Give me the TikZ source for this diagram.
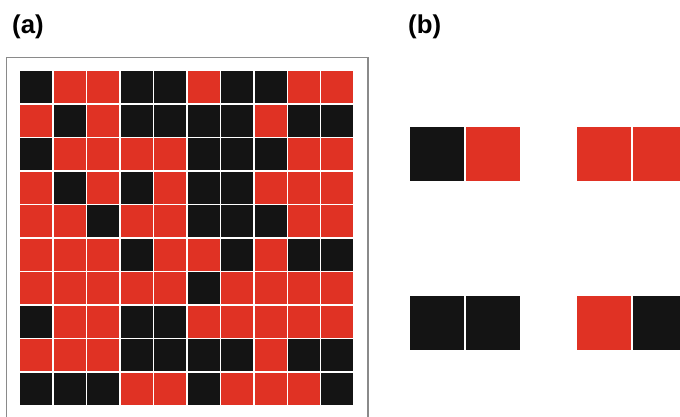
\documentclass[tikz,border=0pt]{standalone}
\usepackage{fontspec}
\setmainfont{Liberation Sans}
\usepackage{tikz}
\usetikzlibrary{positioning}
\definecolor{cellRed}{HTML}{E03224}
\definecolor{cellBlack}{HTML}{141414}
\definecolor{frameGray}{HTML}{8A8A8A}

\begin{document}
\begin{tikzpicture}[
    x=0.3mm, y=-0.3mm,
    cellR/.style={fill=cellRed, inner sep=0pt, minimum width=9.6mm, minimum height=9.6mm},
    cellB/.style={fill=cellBlack, inner sep=0pt, minimum width=9.6mm, minimum height=9.6mm},
    tileR/.style={fill=cellRed, inner sep=0pt, minimum width=16.2mm, minimum height=16.2mm},
    tileB/.style={fill=cellBlack, inner sep=0pt, minimum width=16.2mm, minimum height=16.2mm},
    panel/.style={font=\fontsize{22}{26}\selectfont\bfseries, inner sep=0pt, anchor=west}
]
\useasboundingbox (0,0) rectangle (680,416);
\clip (0,0) rectangle (680,416);
% Labels
\node[panel] (lbla) at (12,27) {(a)};
\node[panel] (lblb) at (408,27) {(b)};
% Frame of (a)
\draw[frameGray, line width=0.35mm] (6.5,430) -- (6.5,57.5) -- (368,57.5) -- (368,430);
% Grid of (a), one row per line
\foreach \row [count=\r from 0] in {
    {B,R,R,B,B,R,B,B,R,R},
    {R,B,R,B,B,B,B,R,B,B},
    {B,R,R,R,R,B,B,B,R,R},
    {R,B,R,B,R,B,B,R,R,R},
    {R,R,B,R,R,B,B,B,R,R},
    {R,R,R,B,R,R,B,R,B,B},
    {R,R,R,R,R,B,R,R,R,R},
    {B,R,R,B,B,R,R,R,R,R},
    {R,R,R,B,B,B,B,R,B,B},
    {B,B,B,R,R,B,R,R,R,B}}
  \foreach \c [count=\k from 0] in \row
    \node[cell\c] (g-\r-\k) at ({36.4+33.45*\k},{87.2+33.5*\r}) {};
% Tiles of (b)
\node[tileB] (t1a) at (437,154) {};
\node[tileR, right=0.6mm of t1a] (t1b) {};
\node[tileR] (t2a) at (604,154) {};
\node[tileR, right=0.6mm of t2a] (t2b) {};
\node[tileB] (t3a) at (437,323) {};
\node[tileB, right=0.6mm of t3a] (t3b) {};
\node[tileR] (t4a) at (604,323) {};
\node[tileB, right=0.6mm of t4a] (t4b) {};
\end{tikzpicture}
\end{document}
